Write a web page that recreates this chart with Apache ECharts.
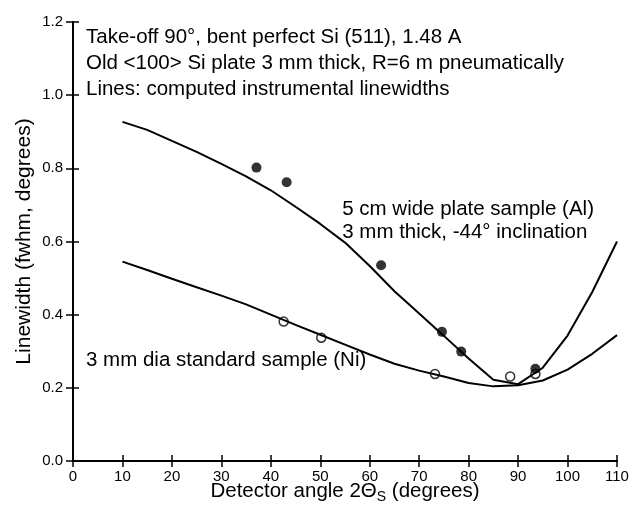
<!DOCTYPE html>
<html><head><meta charset="utf-8">
<script src="https://cdn.jsdelivr.net/npm/echarts@6/dist/echarts.min.js"></script>
<style>html,body{margin:0;padding:0;background:#fff}#c{width:632px;height:506px}</style>
</head><body><div id="c"></div>
<script>
// computed instrumental linewidth curves (x in degrees)
const curveAngles = [10,15,20,25,30,35,40,45,50,55,60,65,70,75,80,85,90,95,100,105,110];
const plateCurve  = [0.927,0.905,0.875,0.845,0.812,0.778,0.740,0.695,0.648,0.597,0.533,0.464,0.403,0.342,0.280,0.222,0.210,0.255,0.343,0.462,0.600];
const niCurve     = [0.545,0.522,0.498,0.475,0.452,0.428,0.400,0.372,0.345,0.318,0.291,0.266,0.247,0.231,0.213,0.204,0.207,0.220,0.250,0.293,0.344];
// measured points
const plateAngles = [37.1,43.2,62.3,74.6,78.5,93.5];
const plateMeas   = [0.802,0.762,0.535,0.353,0.299,0.252];
const niAngles    = [42.6,50.2,73.2,88.4,93.5];
const niMeas      = [0.381,0.337,0.238,0.231,0.238];

const FONT = '"Liberation Sans", Arial, sans-serif';
const pair = (xs, ys) => xs.map((x, i) => [x, ys[i]]);
const chart = echarts.init(document.getElementById('c'), null, {renderer:'canvas'});
const axLine = {show:true, lineStyle:{color:'#000', width:2}};
const tick = {show:true, inside:false, length:6, lineStyle:{color:'#000', width:1.5}};
chart.setOption({
  animation:false,
  backgroundColor:'#fff',
  grid:{left:73, right:15, top:22, bottom:45, outerBoundsMode:'none', containLabel:false},
  xAxis:[{
    type:'value', min:0, max:110, interval:10, position:'bottom',
    axisLine:axLine, axisTick:tick, splitLine:{show:false},
    axisLabel:{color:'#000', fontFamily:FONT, fontSize:15, margin:8},
    name:'{a|Detector angle 2Θ}{s|S}{a| (degrees)}', nameLocation:'middle', nameGap:17, nameMoveOverlap:false,
    nameTextStyle:{rich:{a:{fontFamily:FONT, fontSize:20.5, color:'#000'}, s:{fontFamily:FONT, fontSize:14, color:'#000', padding:[12,0,0,0]}}}
  },{
    type:'value', min:0, max:110, interval:10, position:'top',
    axisLine:axLine, axisTick:tick, axisLabel:{show:false}, splitLine:{show:false}
  }],
  yAxis:[{
    type:'value', min:0, max:1.2, interval:0.2, position:'left',
    axisLine:axLine, axisTick:{...tick, length:7}, splitLine:{show:false},
    axisLabel:{color:'#000', fontFamily:FONT, fontSize:15, margin:10, formatter:v=>v.toFixed(1)},
    name:'Linewidth (fwhm, degrees)', nameLocation:'middle', nameGap:38, nameMoveOverlap:false,
    nameTextStyle:{fontFamily:FONT, fontSize:21, color:'#000'}
  },{
    type:'value', min:0, max:1.2, interval:0.2, position:'right',
    axisLine:axLine, axisTick:tick, axisLabel:{show:false}, splitLine:{show:false}
  }],
  series:[
    {type:'line', data:pair(curveAngles, plateCurve), symbol:'none', lineStyle:{color:'#000', width:2}},
    {type:'line', data:pair(curveAngles, niCurve), symbol:'none', lineStyle:{color:'#000', width:2}},
    {type:'scatter', data:pair(niAngles, niMeas), symbol:'circle', symbolSize:9,
      itemStyle:{color:'#fff', borderColor:'#000', borderWidth:1.5}},
    {type:'scatter', data:pair(plateAngles, plateMeas), symbol:'circle', symbolSize:10,
      itemStyle:{color:'#000'}}
  ],
  graphic:[
    {type:'text', left:86, top:24, style:{text:'Take-off 90°, bent perfect Si (511), 1.48 A\nOld <100> Si plate 3 mm thick, R=6 m pneumatically\nLines: computed instrumental linewidths', font:'20.5px '+FONT, fill:'#000', lineHeight:26}},
    {type:'text', right:38, top:198, style:{text:'5 cm wide plate sample (Al)\n3 mm thick, -44° inclination', font:'20.5px '+FONT, fill:'#000', lineHeight:23, align:'right'}},
    {type:'text', left:86, top:348, style:{text:'3 mm dia standard sample (Ni)', font:'20.5px '+FONT, fill:'#000', lineHeight:24}}
  ]
});
</script></body></html>
